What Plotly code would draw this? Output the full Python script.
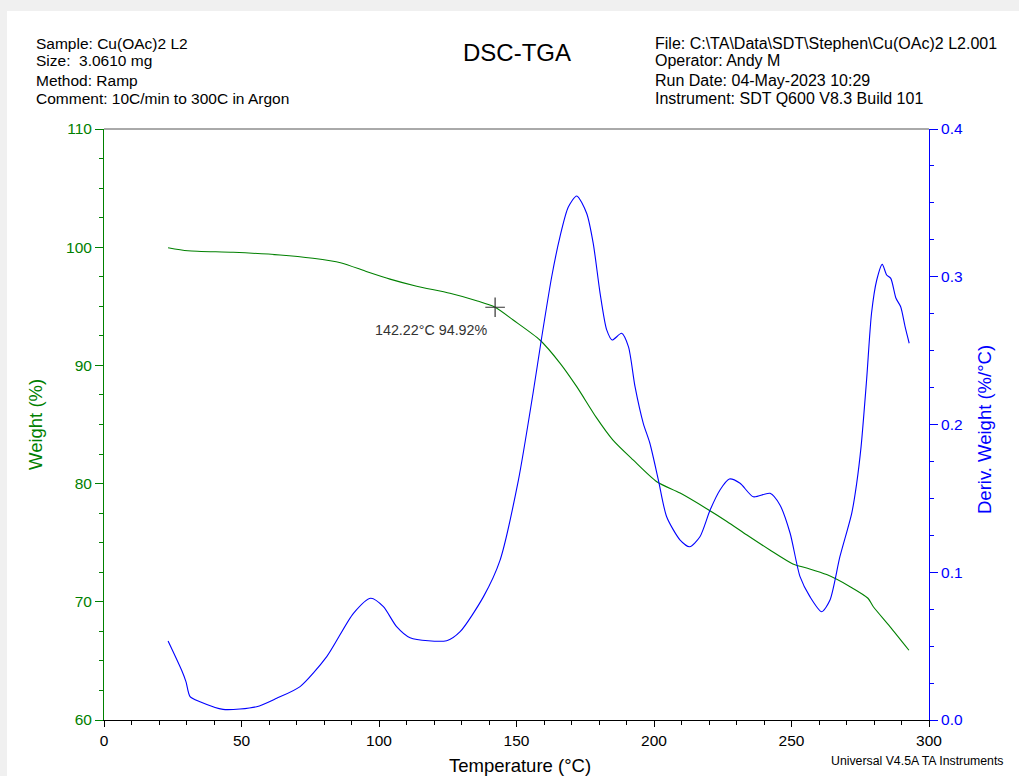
import plotly.graph_objects as go

# TGA weight curve (%), temperature in °C
temp_w = [23.3, 30.5, 47, 64, 76, 86, 95.6, 104, 113.7, 125.8, 135.5, 142.22, 148.8, 158.5,
          165.8, 171.9, 179, 185, 192.4, 201, 209.5, 219, 226.5, 233.8, 242, 250.5, 255.5,
          262.8, 271.3, 277.8, 279.7, 285.8, 292.7]
weight = [99.96, 99.7, 99.57, 99.34, 99.06, 98.69, 97.93, 97.3, 96.7, 96.1, 95.47, 94.92, 93.84,
          92.15, 90.2, 88.2, 85.6, 83.7, 82.0, 80.16, 79.2, 77.9, 76.8, 75.65, 74.4, 73.2, 72.86,
          72.3, 71.28, 70.3, 69.6, 67.9, 65.9]

# Derivative weight curve (%/°C)
temp_d = [23.3, 28.2, 29.8, 31.3, 34.9, 43.3, 55.5, 62.8, 71.3, 81, 90.7, 97, 101.6, 106.4,
          111.3, 124.6, 129.5, 138, 144, 150.7, 156, 159.2, 162.8, 165.8, 168.8, 171.9, 175.5,
          177.9, 180.4, 182.8, 184.8, 188.2, 190.7, 193.1, 196.1, 198.5, 201.6, 204.6, 209.5,
          213, 216.7, 220.4, 224, 227.4, 231.3, 236.1, 242.2, 245.8, 249.5, 253.1, 256.7, 261,
          264, 267.6, 271.9, 273.7, 275.3, 277.3, 279.1, 281, 283, 284.6, 286.1, 288, 289.7,
          291.3, 292.8]
deriv = [0.0535, 0.0338, 0.026, 0.0158, 0.0124, 0.0072, 0.009, 0.0147, 0.0226, 0.0429, 0.0722,
         0.0824, 0.0767, 0.0632, 0.0557, 0.0537, 0.0598, 0.0835, 0.108, 0.1624, 0.221, 0.2594,
         0.300, 0.327, 0.347, 0.3547, 0.343, 0.3226, 0.2888, 0.264, 0.2572, 0.2617, 0.2527,
         0.2256, 0.2008, 0.1873, 0.1624, 0.1376, 0.1218, 0.1173, 0.124, 0.1421, 0.1557, 0.1631,
         0.1602, 0.1511, 0.1534, 0.1455, 0.1264, 0.097, 0.0835, 0.0733, 0.0812, 0.1105, 0.1399,
         0.1602, 0.185, 0.2301, 0.2753, 0.2978, 0.3084, 0.3012, 0.2989, 0.2854, 0.2797, 0.2662,
         0.255]

# Cursor readout on the weight curve
cursor_t = 142.22
cursor_w = 94.92

header_left = ["Sample: Cu(OAc)2 L2", "Size:  3.0610 mg", "Method: Ramp",
               "Comment: 10C/min to 300C in Argon"]
header_right = ["File: C:\\TA\\Data\\SDT\\Stephen\\Cu(OAc)2 L2.001", "Operator: Andy M",
                "Run Date: 04-May-2023 10:29", "Instrument: SDT Q600 V8.3 Build 101"]

W, H = 1019, 776
L, R, T, B = 104, 929, 129, 720
GREEN = "#008000"
BLUE = "#0000ff"
FONT = "Liberation Sans, Arial, sans-serif"


def px(x):
    return (x - L) / (R - L)


def py(y):
    return (B - y) / (B - T)


fig = go.Figure()
fig.add_trace(go.Scatter(x=temp_w, y=weight, mode="lines",
                         line=dict(color=GREEN, width=1.1, shape="spline", smoothing=0.7),
                         showlegend=False, hoverinfo="skip"))
fig.add_trace(go.Scatter(x=temp_d, y=deriv, mode="lines",
                         line=dict(color=BLUE, width=1.1, shape="spline", smoothing=0.7),
                         yaxis="y2", showlegend=False, hoverinfo="skip"))
fig.add_trace(go.Scatter(x=[cursor_t], y=[cursor_w], mode="markers",
                         marker=dict(symbol="cross-thin", size=14,
                                     line=dict(color="#333333", width=1.2)),
                         showlegend=False, hoverinfo="skip"))

annotations = []
line_y = [43, 61, 80, 98]
for txt, yy in zip(header_left, line_y):
    annotations.append(dict(text=txt, x=px(34), y=py(yy), xref="paper", yref="paper",
                            xanchor="left", yanchor="middle", showarrow=False,
                            font=dict(size=15.5, color="black", family=FONT)))
for txt, yy in zip(header_right, line_y):
    annotations.append(dict(text=txt, x=px(653), y=py(yy), xref="paper", yref="paper",
                            xanchor="left", yanchor="middle", showarrow=False,
                            font=dict(size=16, color="black", family=FONT)))
annotations += [
    dict(text="DSC-TGA", x=px(517), y=py(52), xref="paper", yref="paper",
         xanchor="center", yanchor="middle", showarrow=False,
         font=dict(size=24, color="black", family=FONT)),
    dict(text="Weight (%)", x=px(35), y=py(425), xref="paper", yref="paper", textangle=-90,
         xanchor="center", yanchor="middle", showarrow=False,
         font=dict(size=18.5, color=GREEN, family=FONT)),
    dict(text="Deriv. Weight (%/°C)", x=px(985), y=py(430), xref="paper", yref="paper",
         textangle=-90, xanchor="center", yanchor="middle", showarrow=False,
         font=dict(size=18.5, color=BLUE, family=FONT)),
    dict(text="Temperature (°C)", x=px(520), y=py(765), xref="paper", yref="paper",
         xanchor="center", yanchor="middle", showarrow=False,
         font=dict(size=18.5, color="black", family=FONT)),
    dict(text="Universal V4.5A TA Instruments", x=px(1005), y=py(761), xref="paper",
         yref="paper", xanchor="right", yanchor="middle", showarrow=False,
         font=dict(size=12.3, color="black", family=FONT)),
    dict(text=f"{cursor_t:.2f}°C {cursor_w:.2f}%", x=px(431), y=py(330), xref="paper",
         yref="paper", xanchor="center", yanchor="middle", showarrow=False,
         font=dict(size=14.3, color="#333333", family=FONT)),
]

shapes = [
    # white page on the grey window background
    dict(type="rect", xref="paper", yref="paper", x0=px(7), x1=px(W + 5), y0=py(11),
         y1=py(H + 5), fillcolor="white", line=dict(width=0), layer="below"),
    # top frame line
    dict(type="line", xref="paper", yref="paper", x0=0, x1=1, y0=1, y1=1,
         line=dict(color="#555555", width=1)),
]

fig.update_layout(
    width=W, height=H,
    margin=dict(l=L, r=W - R, t=T, b=H - B),
    paper_bgcolor="#f0f0f0", plot_bgcolor="white",
    font=dict(family=FONT, size=14),
    annotations=annotations, shapes=shapes,
    xaxis=dict(range=[0, 300], dtick=50, tick0=0, showgrid=False, zeroline=False,
               showline=True, linecolor="black", linewidth=1, ticks="outside", ticklen=6,
               tickcolor="black", tickfont=dict(size=15.5, color="black"),
               minor=dict(dtick=10, ticks="outside", ticklen=4, tickcolor="black")),
    yaxis=dict(range=[60, 110], dtick=10, tick0=60, showgrid=False, zeroline=False,
               showline=True, linecolor=GREEN, linewidth=1, ticks="outside", ticklen=8,
               tickcolor=GREEN, tickfont=dict(size=15.5, color=GREEN),
               minor=dict(dtick=2.5, ticks="outside", ticklen=4, tickcolor=GREEN)),
    yaxis2=dict(range=[0, 0.4], dtick=0.1, tick0=0, tickformat=".1f", overlaying="y",
                side="right", showgrid=False, zeroline=False, showline=True, linecolor=BLUE,
                linewidth=1, ticks="outside", ticklen=8, tickcolor=BLUE,
                tickfont=dict(size=15.5, color=BLUE),
                minor=dict(dtick=0.025, ticks="outside", ticklen=4, tickcolor=BLUE)),
)

fig.write_html("out.html")
